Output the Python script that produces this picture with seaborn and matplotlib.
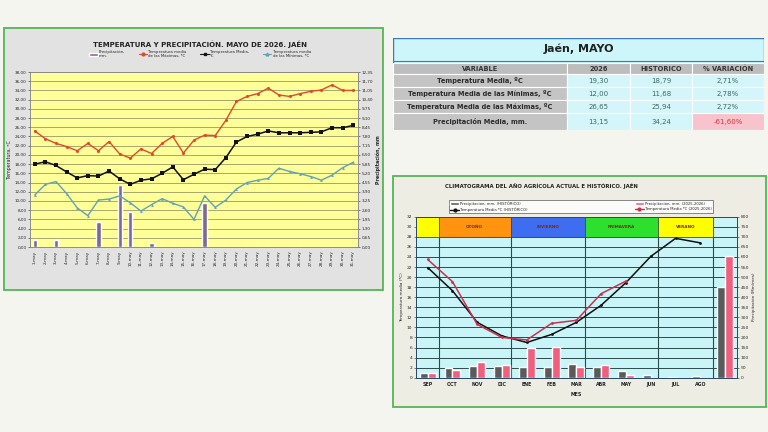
import numpy as np
import pandas as pd
import seaborn as sns
import matplotlib.pyplot as plt
from matplotlib.patches import Rectangle, Patch
from matplotlib.lines import Line2D
from matplotlib.ticker import FuncFormatter, MultipleLocator

# ── datos diarios, mayo 2026 ─────────────────────────────
dias = [f"{d}-may" for d in range(1, 32)]
t_max = [25.2, 23.5, 22.5, 21.8, 20.9, 22.5, 20.9, 22.9, 20.2, 19.3, 21.3, 20.3, 22.5, 24.0, 20.4, 23.2,
         24.3, 24.2, 27.5, 31.6, 32.7, 33.3, 34.5, 33.0, 32.7, 33.3, 33.8, 34.1, 35.2, 34.0, 34.0]
t_med = [18.0, 18.5, 17.7, 16.3, 15.0, 15.5, 15.4, 16.5, 14.8, 13.6, 14.5, 14.8, 16.0, 17.4, 14.6, 15.8,
         16.9, 16.8, 19.4, 22.8, 24.0, 24.5, 25.2, 24.8, 24.8, 24.8, 24.9, 25.0, 25.9, 25.9, 26.4]
t_min = [11.3, 13.6, 14.2, 11.6, 8.5, 6.8, 10.2, 10.4, 11.1, 9.6, 7.8, 9.2, 10.5, 9.5, 8.7, 6.0,
         11.1, 8.6, 10.2, 12.6, 14.0, 14.5, 14.9, 17.1, 16.4, 15.9, 15.3, 14.5, 15.6, 17.2, 18.4]
precip = [0.52, 0, 0.52, 0, 0, 0, 1.77, 0, 4.40, 2.50, 0, 0.31, 0, 0, 0, 0,
          3.10, 0, 0, 0, 0, 0, 0, 0, 0, 0, 0, 0, 0, 0, 0]

# ── tabla resumen ────────────────────────────────────────
tabla_vars = ["Temperatura Media, ºC", "Temperatura Media de las Mínimas, ºC",
              "Temperatura Media de las Máximas, ºC", "Precipitación Media, mm."]
tabla_2026 = [19.30, 12.00, 26.65, 13.15]
tabla_hist = [18.79, 11.68, 25.94, 34.24]
tabla_var = [2.71, 2.78, 2.72, -61.60]
tabla_cols = ["VARIABLE", "2026", "HISTORICO", "% VARIACIÓN"]

# ── climatograma ─────────────────────────────────────────
meses = ["SEP", "OCT", "NOV", "DIC", "ENE", "FEB", "MAR", "ABR", "MAY", "JUN", "JUL", "AGO"]
temp_hist = [21.9, 17.3, 11.0, 8.3, 7.0, 8.6, 11.0, 14.4, 18.9, 24.1, 27.7, 26.8]
temp_act = [23.5, 19.1, 10.6, 8.0, 7.5, 10.8, 11.4, 16.7, 19.2]
prec_hist = [25, 50, 58, 58, 51, 51, 70, 53, 34, 12, 3, 7]
prec_act = [21, 38, 80, 63, 146, 153, 55, 61, 13]
prec_hist_total = 450
prec_act_total = 605
estaciones = ["", "OTOÑO", "INVIERNO", "PRIMAVERA", "VERANO"]
estacion_lim = [-0.47, 0.44, 3.36, 6.35, 9.30, 11.5]
estacion_col = ["#ffff00", "#ff9410", "#3f6df0", "#2ee02e", "#ffff00"]

coma = FuncFormatter(lambda v, p: f"{v:.2f}".replace(".", ","))


def box(x0, y0, x1, y1):
    return [x0 / 768, 1 - y1 / 432, (x1 - x0) / 768, (y1 - y0) / 432]


def num(v):
    return f"{v:.2f}".replace(".", ",")


sns.set_theme(style="white")
plt.rcParams["font.family"] = ["DejaVu Sans"]

fig = plt.figure(figsize=(7.68, 4.32), dpi=100)
fig.patch.set_facecolor("#f3f5ee")

# paneles de fondo
for (x0, y0, x1, y1), fc in [((4, 28, 383, 290), "#e2e2e2"), ((393, 176, 766, 407), "#ededE4")]:
    fig.patches.append(Rectangle((x0 / 768, 1 - y1 / 432), (x1 - x0) / 768, (y1 - y0) / 432,
                                 transform=fig.transFigure, facecolor=fc, edgecolor="#55b555",
                                 linewidth=1.3, zorder=-5))

# ═════════ gráfico diario ═════════
ax2 = fig.add_axes(box(30, 72, 358, 247))
ax = ax2.twinx()
ax2.yaxis.tick_right()
ax2.yaxis.set_label_position("right")
ax.yaxis.tick_left()
ax.yaxis.set_label_position("left")
ax.set_zorder(ax2.get_zorder() + 1)
ax.patch.set_visible(False)
ax2.set_facecolor("#ffff99")

x = np.arange(31)
ax2.bar(x, precip, width=0.4, color="#7d6a8c", zorder=3)
ax2.set_ylim(0, 12.35)
ax2.yaxis.set_major_locator(MultipleLocator(0.65))
ax2.yaxis.set_major_formatter(coma)
ax2.grid(axis="y", color="#9a9a66", linewidth=0.6)
ax2.set_axisbelow(True)

c_max, c_med, c_min = "#e2482a", "#111111", "#62a2b6"
sns.lineplot(x=x, y=t_max, ax=ax, color=c_max, marker="o", markersize=2.2, linewidth=1.0,
             markeredgewidth=0, legend=False)
sns.lineplot(x=x, y=t_med, ax=ax, color=c_med, marker="s", markersize=2.4, linewidth=1.1,
             markeredgewidth=0, legend=False)
sns.lineplot(x=x, y=t_min, ax=ax, color=c_min, marker="^", markersize=2.0, linewidth=1.0,
             markeredgewidth=0, legend=False)
ax.set_ylim(0, 38)
ax.yaxis.set_major_locator(MultipleLocator(2))
ax.yaxis.set_major_formatter(coma)
ax2.set_xlim(-0.45, 30.45)
ax2.set_xticks(x)
ax2.set_xticklabels(dias, rotation=90)
for a in (ax, ax2):
    a.tick_params(labelsize=3.0, length=1.5, width=0.4, pad=1)
    for s in a.spines.values():
        s.set_color("#888888")
        s.set_linewidth(0.5)
ax.set_ylabel("Temperatura, ºC", fontsize=3.4, labelpad=2)
ax2.set_ylabel("Precipitación, mm", fontsize=3.4, fontweight="bold", labelpad=2)

fig.text(200 / 768, 1 - 44 / 432, "TEMPERATURA Y PRECIPITACIÓN. MAYO DE 2026. JAÉN",
         ha="center", va="center", fontsize=5.0, fontweight="bold", color="#222222")
h1 = [Patch(facecolor="#7d6a8c"),
      Line2D([], [], color=c_max, marker="o", markersize=2, linewidth=0.8),
      Line2D([], [], color=c_med, marker="s", markersize=2, linewidth=0.8),
      Line2D([], [], color=c_min, marker="^", markersize=2, linewidth=0.8)]
l1 = ["Precipitación,\nmm.", "Temperatura media\nde las Máximas, ºC", "Temperatura Media,\nºC",
      "Temperatura media\nde las Mínimas, ºC"]
fig.legend(h1, l1, ncol=4, loc="center", bbox_to_anchor=(200 / 768, 1 - 54 / 432), fontsize=2.8,
           frameon=False, handlelength=2.2, columnspacing=3.5, handletextpad=0.3)

# ═════════ tabla ═════════
axt = fig.add_axes(box(393, 37.7, 764, 130))
axt.set_xlim(0, 371)
axt.set_ylim(92.3, 0)
axt.axis("off")
col_x = [0, 174, 237, 299, 371]
row_y = [25.5, 36.6, 49.5, 62.5, 75.5, 92.3]
axt.add_patch(Rectangle((0, 0), 371, 92.3, facecolor="#cdf6fa", edgecolor="#3a78c0", linewidth=1.0))
axt.text(185.5, 11.5, "Jaén, MAYO", ha="center", va="center", fontsize=8, fontweight="bold",
         color="#222222")
axt.plot([0, 371], [23.5, 23.5], color="#3a78c0", linewidth=0.8)
for j, c in enumerate(tabla_cols):
    axt.add_patch(Rectangle((col_x[j], row_y[0]), col_x[j + 1] - col_x[j], row_y[1] - row_y[0],
                            facecolor="#bdbdbd", edgecolor="white", linewidth=0.8))
    axt.text((col_x[j] + col_x[j + 1]) / 2, (row_y[0] + row_y[1]) / 2, c, ha="center", va="center",
             fontsize=4.8, fontweight="bold", color="#333333")
for i, var in enumerate(tabla_vars):
    y0, y1 = row_y[i + 1], row_y[i + 2]
    ym = (y0 + y1) / 2
    axt.add_patch(Rectangle((0, y0), col_x[1], y1 - y0, facecolor="#c4c4c4", edgecolor="white",
                            linewidth=0.8))
    axt.text(col_x[1] / 2, ym, var, ha="center", va="center", fontsize=4.8, fontweight="bold",
             color="#2b2b2b")
    vals = [num(tabla_2026[i]), num(tabla_hist[i]), num(tabla_var[i]) + "%"]
    for j, v in enumerate(vals):
        neg = j == 2 and tabla_var[i] < 0
        axt.add_patch(Rectangle((col_x[j + 1], y0), col_x[j + 2] - col_x[j + 1], y1 - y0,
                                facecolor="#f7c3cc" if neg else "#d4f6fa", edgecolor="white",
                                linewidth=0.8))
        axt.text((col_x[j + 1] + col_x[j + 2]) / 2, ym, v, ha="center", va="center", fontsize=5.0,
                 color="#e0303a" if neg else "#3d6a62")

# ═════════ climatograma ═════════
ax4 = fig.add_axes(box(416, 216.7, 737, 377.7))
ax3 = ax4.twinx()
ax4.yaxis.tick_right()
ax4.yaxis.set_label_position("right")
ax3.yaxis.tick_left()
ax3.yaxis.set_label_position("left")
ax3.set_zorder(ax4.get_zorder() + 1)
ax3.patch.set_visible(False)
ax4.set_facecolor("#c9f5f9")

ax4.set_ylim(0, 800)
ax4.yaxis.set_major_locator(MultipleLocator(50))
ax4.grid(axis="y", color="#2c4a4c", linewidth=0.7)
ax4.set_axisbelow(True)
for xv in estacion_lim[1:]:
    ax4.axvline(xv, color="#2c4a4c", linewidth=0.8, zorder=1)
for k, nombre in enumerate(estaciones):
    x0, x1 = estacion_lim[k], estacion_lim[k + 1]
    ax4.add_patch(Rectangle((x0, 700), x1 - x0, 100, facecolor=estacion_col[k], edgecolor="#2c4a4c",
                            linewidth=0.5, zorder=2))
    ax4.text((x0 + x1) / 2, 750, nombre, ha="center", va="center", fontsize=3.0,
             fontweight="bold", color="#7a2a10", zorder=3)

xm = np.arange(12)
c_hist, c_act = "#5a5a5a", "#f0607e"
ax4.bar(xm - 0.16, prec_hist, width=0.32, color=c_hist, zorder=3)
ax4.bar(np.arange(len(prec_act)) + 0.16, prec_act, width=0.32, color=c_act, zorder=3)
ax4.bar([12 - 0.16], [prec_hist_total], width=0.32, color=c_hist, zorder=3)
ax4.bar([12 + 0.16], [prec_act_total], width=0.32, color=c_act, zorder=3)

sns.lineplot(x=xm, y=temp_hist, ax=ax3, color="#111111", marker="o", markersize=2,
             linewidth=1.1, markeredgewidth=0, legend=False)
sns.lineplot(x=np.arange(len(temp_act)), y=temp_act, ax=ax3, color="#c8324e", marker="o",
             markersize=2, linewidth=1.1, markeredgewidth=0, legend=False)
ax3.set_ylim(0, 32)
ax3.yaxis.set_major_locator(MultipleLocator(2))
ax4.set_xlim(-0.47, 12.48)
ax4.set_xticks(xm)
ax4.set_xticklabels(meses, fontweight="bold")
for a in (ax3, ax4):
    a.tick_params(labelsize=3.2, length=1.5, width=0.4, pad=1.2)
    for s in a.spines.values():
        s.set_color("#2c4a6c")
        s.set_linewidth(0.7)
ax4.tick_params(axis="x", length=0, pad=3, labelsize=3.4)
ax3.set_ylabel("Temperatura media (ºC)", fontsize=3.0, labelpad=2)
ax4.set_ylabel("Precipitación (Mm/mes)", fontsize=3.0, labelpad=2)
ax4.set_xlabel("MES", fontsize=3.4, fontweight="bold", labelpad=4)

fig.text(445 / 768, 1 - 186 / 432, "CLIMATOGRAMA DEL AÑO AGRÍCOLA ACTUAL E HISTÓRICO. JAÉN",
         ha="left", va="center", fontsize=3.9, fontweight="bold", color="#222222")
h2 = [Patch(facecolor=c_hist), Line2D([], [], color="#111111", marker="o", markersize=2, linewidth=1),
      Patch(facecolor=c_act), Line2D([], [], color="#c8324e", marker="o", markersize=2, linewidth=1)]
l2 = ["Precipitación, mm. (HISTÓRICO)", "Temperatura Media ºC (HISTÓRICO)",
      "Precipitación, mm. (2025-2026)", "Temperatura Media ºC (2025-2026)"]
lg = fig.legend(h2, l2, ncol=2, loc="lower left", mode="expand",
                bbox_to_anchor=(447 / 768, 1 - 215 / 432, 268 / 768, 17 / 432), fontsize=2.7,
                frameon=True, fancybox=False, handlelength=2.5, borderpad=0.3, labelspacing=0.4,
                handletextpad=0.3)
lg.get_frame().set_edgecolor("#333333")
lg.get_frame().set_linewidth(0.5)

fig.savefig("out.png", dpi=100, facecolor=fig.get_facecolor())
